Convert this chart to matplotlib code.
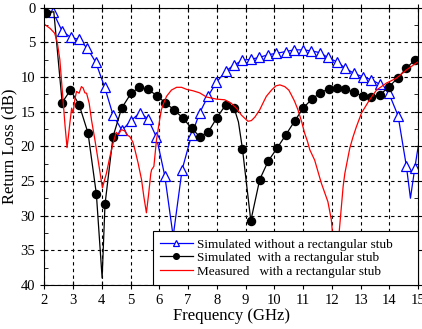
import matplotlib
matplotlib.use('Agg')
import matplotlib.pyplot as plt
from matplotlib.ticker import MultipleLocator

plt.rcParams['font.family'] = ['Liberation Serif', 'DejaVu Serif']

# simulated, no stub (blue triangles)
f_nostub = [2.02, 2.31, 2.62, 2.92, 3.21, 3.5, 3.79, 4.1, 4.39, 4.7, 5.02, 5.31, 5.6, 5.9,
            6.19, 6.48, 6.79, 7.12, 7.4, 7.69, 7.98, 8.3, 8.59, 8.89, 9.18, 9.47, 9.78,
            10.07, 10.39, 10.68, 11.0, 11.29, 11.58, 11.86, 12.16, 12.47, 12.77, 13.08,
            13.37, 13.66, 13.98, 14.3, 14.59, 14.73, 14.88, 15.0]
rl_nostub = [0.3, 0.7, 3.4, 4.3, 4.6, 5.9, 7.9, 11.5, 15.5, 17.7, 16.3, 15.2, 16.0, 18.7,
             24.3, 33.0, 23.4, 18.4, 15.2, 12.8, 10.8, 9.2, 8.3, 7.6, 7.45, 7.2, 6.8,
             6.6, 6.35, 6.1, 6.1, 6.25, 6.5, 7.2, 7.8, 8.75, 9.5, 10.0,
             10.4, 11.05, 12.35, 15.6, 22.9, 27.5, 23.2, 20.0]
nostub_marks = [i for i in range(len(f_nostub)) if f_nostub[i] not in (14.73, 15.0)]

# simulated, with stub (black circles)
f_stub = [2.0, 2.05, 2.33, 2.62, 2.91, 3.21, 3.52, 3.81, 4.01, 4.11, 4.39, 4.69, 5.02, 5.3,
          5.61, 5.91, 6.2, 6.51, 6.82, 7.12, 7.4, 7.69, 8.0, 8.31, 8.6, 8.75, 8.89, 9.18,
          9.49, 9.79, 10.09, 10.39, 10.7, 11.0, 11.3, 11.6, 11.89, 12.18, 12.47, 12.77,
          13.08, 13.37, 13.66, 13.97, 14.3, 14.59, 14.88, 15.0]
rl_stub = [0.8, 0.8, 0.6, 13.7, 11.9, 14.0, 18.1, 26.9, 39.0, 28.4, 18.6, 14.5, 12.35, 11.5,
           11.8, 12.7, 13.7, 14.75, 15.95, 17.4, 18.6, 18.0, 15.9, 14.0, 14.5, 16.5, 20.4, 30.75,
           24.8, 22.1, 20.3, 18.4, 16.4, 14.5, 13.2, 12.3, 11.7, 11.6, 11.8, 12.2,
           12.8, 12.9, 12.6, 11.5, 10.1, 8.75, 7.55, 7.1]
stub_marks = [i for i in range(len(f_stub)) if f_stub[i] not in (2.0, 2.33, 4.01, 8.75, 15.0)]

# measured, with stub (red)
f_meas = [2.0, 2.1, 2.2, 2.36, 2.45, 2.54, 2.65, 2.72, 2.79, 2.84, 2.89, 2.95, 3.0, 3.06,
          3.12, 3.21, 3.29, 3.35, 3.41, 3.47, 3.56, 3.64, 3.76, 3.87, 3.96, 4.02, 4.1,
          4.16, 4.28, 4.39, 4.5, 4.58, 4.68, 4.8, 4.88, 4.97, 5.08, 5.15, 5.26, 5.38,
          5.46, 5.55, 5.63, 5.7, 5.73, 5.81, 5.9, 6.01, 6.07, 6.13, 6.25, 6.42, 6.6,
          6.77, 6.95, 7.17, 7.4, 7.64, 7.98, 8.27, 8.5, 8.7, 8.85, 9.08, 9.2, 9.32, 9.49,
          9.6, 9.72, 9.9, 10.05, 10.19, 10.36, 10.5, 10.59, 10.7, 10.82, 10.95, 11.05,
          11.15, 11.23, 11.4, 11.63, 11.86, 11.98, 12.05, 12.12, 12.2, 12.25, 12.39,
          12.45, 12.62, 12.73, 12.85, 13.03, 13.31, 13.55, 13.89, 14.24, 14.59, 15.0]
rl_meas = [2.4, 2.7, 3.0, 3.7, 5.0, 7.5, 13.3, 17.0, 20.2, 18.5, 16.6, 14.5, 15.2, 13.3,
           12.1, 12.35, 11.4, 11.6, 12.3, 12.35, 13.8, 16.2, 19.1, 22.0, 24.4, 26.0, 24.8,
           23.9, 21.5, 19.6, 18.0, 18.3, 17.6, 17.8, 18.4, 18.6, 19.4, 20.5, 22.4, 24.8,
           27.25, 29.6, 26.8, 24.0, 23.4, 22.9, 19.1, 16.2, 14.75, 14.0, 12.8, 11.9, 11.5,
           11.5, 11.8, 12.0, 12.3, 12.9, 13.2, 13.3, 13.8, 14.6, 15.5, 16.4, 16.3, 15.8, 14.75,
           13.8, 12.8, 11.9, 11.3, 11.15, 11.4, 11.9, 12.6, 13.5, 14.75, 16.5, 18.1,
           19.3, 20.5, 22.0, 25.3, 28.0, 30.6, 34.0, 38.0, 35.0, 32.5, 25.8,
           23.9, 20.3, 18.7, 17.2, 15.2, 13.3, 11.9, 10.9, 10.2, 9.0, 7.8]

fig = plt.figure(figsize=(4.22, 3.29), dpi=100)
ax = fig.add_axes([0.105, 0.134, 0.886, 0.843])

ax.plot(f_nostub, rl_nostub, color='blue', lw=0.9, marker='^', ms=6.5, mfc='white',
        mec='blue', mew=0.9, markevery=nostub_marks,
        label='Simulated without a rectangular stub')
ax.plot(f_stub, rl_stub, color='black', lw=0.9, marker='o', ms=5.8, mfc='black',
        mec='black', markevery=stub_marks,
        label='Simulated  with a rectangular stub')
ax.plot(f_meas, rl_meas, color='red', lw=0.9, label='Measured   with a rectangular stub')

ax.set_xlim(2, 15)
ax.set_ylim(40, 0)
ax.xaxis.set_major_locator(MultipleLocator(1))
ax.yaxis.set_major_locator(MultipleLocator(5))
ax.yaxis.set_minor_locator(MultipleLocator(2.5))
ax.tick_params(which='major', direction='inout', length=6, top=True, right=True,
               labelsize=10.5)
ax.tick_params(which='minor', direction='in', length=3, right=True)
ax.grid(True, color='black', linestyle=(0, (3, 3)), linewidth=0.8)

ax.set_xlabel('Frequency (GHz)', fontsize=12, labelpad=1)
ax.set_ylabel('Return Loss (dB)', fontsize=12, labelpad=2)

leg = ax.legend(loc='lower left', bbox_to_anchor=(0.29, 0.0, 0.71, 0.19), mode='expand',
                fontsize=9.5, frameon=True, fancybox=False, edgecolor='black',
                framealpha=1, borderaxespad=0, handlelength=2.5, handletextpad=0.3,
                labelspacing=0.1, borderpad=0.55, markerscale=0.7)
leg.get_frame().set_linewidth(0.8)

plt.savefig('out.png', dpi=100)
